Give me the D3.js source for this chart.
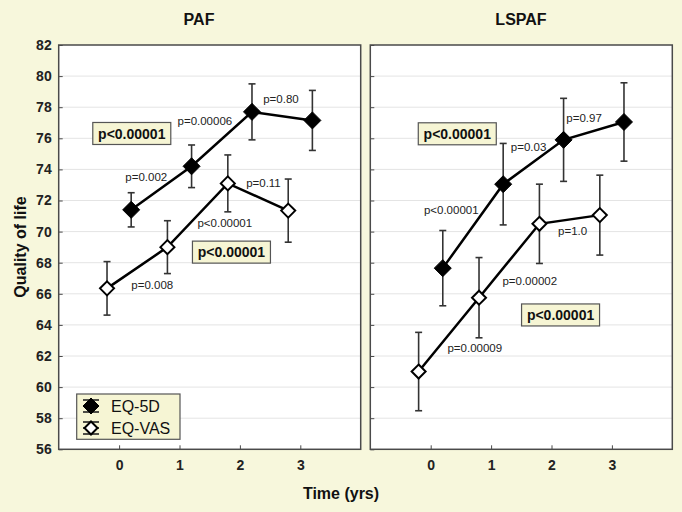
<!DOCTYPE html>
<html><head><meta charset="utf-8">
<script src="https://cdn.jsdelivr.net/npm/d3@7"></script>
<style>html,body{margin:0;padding:0;background:#f7f7dc;}svg{display:block;font-family:"Liberation Sans",Arial,sans-serif;}</style>
</head><body>
<script>
// ---- data ----
const panels = ["PAF", "LSPAF"];
const timeTicks = [0, 1, 2, 3];
const yTicks = [56, 58, 60, 62, 64, 66, 68, 70, 72, 74, 76, 78, 80, 82];
const seriesNames = ["EQ-5D", "EQ-VAS"];
const xOffsets = [0.2, -0.2];
// PAF
const pafEQ5D = [71.4, 74.2, 77.7, 77.15];
const pafEQ5Derr = [1.1, 1.37, 1.8, 1.93];
const pafVAS = [66.35, 69.0, 73.1, 71.35];
const pafVASerr = [1.72, 1.7, 1.83, 2.03];
// LSPAF
const lsEQ5D = [67.65, 73.05, 75.9, 77.05];
const lsEQ5Derr = [2.42, 2.62, 2.67, 2.52];
const lsVAS = [61.0, 65.75, 70.5, 71.06];
const lsVASerr = [2.52, 2.58, 2.55, 2.57];
// annotations: [panel, x, y, text, boxed]
const annotations = [
  [0, 0.21, 76.31, "p<0.00001", true],
  [0, 1.42, 77.13, "p=0.00006", false],
  [0, 2.68, 78.53, "p=0.80", false],
  [0, 0.45, 73.52, "p=0.002", false],
  [0, 2.39, 73.14, "p=0.11", false],
  [0, 1.75, 70.56, "p<0.00001", false],
  [0, 1.86, 68.68, "p<0.00001", true],
  [0, 0.55, 66.56, "p=0.008", false],
  [1, 0.44, 76.29, "p<0.00001", true],
  [1, 1.62, 75.46, "p=0.03", false],
  [1, 2.54, 77.32, "p=0.97", false],
  [1, 0.34, 71.38, "p<0.00001", false],
  [1, 2.35, 70.03, "p=1.0", false],
  [1, 1.64, 66.81, "p=0.00002", false],
  [1, 2.15, 64.64, "p<0.00001", true],
  [1, 0.73, 62.52, "p=0.00009", false]
];
const panelData = [
  [{v: pafEQ5D, e: pafEQ5Derr}, {v: pafVAS, e: pafVASerr}],
  [{v: lsEQ5D, e: lsEQ5Derr}, {v: lsVAS, e: lsVASerr}]
];

// ---- layout ----
const W = 682, H = 512;
const svg = d3.select("body").append("svg").attr("width", W).attr("height", H);
svg.append("rect").attr("width", W).attr("height", H).attr("fill", "#f7f7dc");

const y = d3.scaleLinear().domain([56, 82]).range([449.3, 45]);
const xRanges = [[58.7, 360.7], [370.3, 672.3]];
const titleX = [199, 521];
const boxFill = "#f6f5d4";
const frameCol = "#4a4a4a";

function diamond(g, cx, cy, r, filled, sw) {
  g.append("path")
    .attr("d", `M${cx},${cy - r}L${cx + r},${cy}L${cx},${cy + r}L${cx - r},${cy}Z`)
    .attr("fill", filled ? "#000" : "#fff")
    .attr("stroke", "#000").attr("stroke-width", sw).attr("stroke-linejoin", "miter");
}

panels.forEach((name, pi) => {
  const x = d3.scaleLinear().domain([-1, 4]).range(xRanges[pi]);
  const g = svg.append("g");
  // plot background
  g.append("rect").attr("x", x(-1)).attr("y", y(82)).attr("width", x(4) - x(-1)).attr("height", y(56) - y(82))
    .attr("fill", "#fff");
  // gridlines
  g.selectAll(".grid").data(yTicks.filter(t => t > 56 && t < 82)).enter().append("line")
    .attr("x1", x(-1)).attr("x2", x(4)).attr("y1", d => y(d)).attr("y2", d => y(d))
    .attr("stroke", "#e4e4e4").attr("stroke-width", 1);
  // y axis ticks (inside)
  const yAxis = d3.axisLeft(y).tickValues(yTicks).tickSize(-4).tickFormat(pi === 0 ? d3.format("d") : "");
  const ya = g.append("g").attr("transform", `translate(${x(-1)},0)`).call(yAxis);
  ya.select(".domain").remove();
  ya.selectAll(".tick line").attr("stroke", frameCol);
  ya.selectAll(".tick text").attr("x", -7).attr("font-size", 14).attr("font-weight", "bold")
    .attr("fill", "#222").attr("font-family", "'Liberation Sans',Arial,sans-serif");
  // x axis
  const xAxis = d3.axisBottom(x).tickValues(timeTicks).tickSize(-4).tickFormat(d3.format("d"));
  const xa = g.append("g").attr("transform", `translate(0,${y(56)})`).call(xAxis);
  xa.select(".domain").remove();
  xa.selectAll(".tick line").attr("stroke", frameCol);
  xa.selectAll(".tick text").attr("y", 11).attr("font-size", 14).attr("font-weight", "bold")
    .attr("fill", "#222").attr("font-family", "'Liberation Sans',Arial,sans-serif");
  // frame
  g.append("rect").attr("x", x(-1)).attr("y", y(82)).attr("width", x(4) - x(-1)).attr("height", y(56) - y(82))
    .attr("fill", "none").attr("stroke", frameCol).attr("stroke-width", 1.5);
  // title
  svg.append("text").attr("x", titleX[pi]).attr("y", 25).attr("text-anchor", "middle")
    .attr("font-size", 16).attr("font-weight", "bold").attr("fill", "#111").text(name);

  // series
  panelData[pi].forEach((s, si) => {
    const pts = s.v.map((v, i) => ({x: timeTicks[i] + xOffsets[si], v: v, e: s.e[i]}));
    // error bars
    pts.forEach(p => {
      const px = x(p.x);
      g.append("line").attr("x1", px).attr("x2", px).attr("y1", y(p.v + p.e)).attr("y2", y(p.v - p.e))
        .attr("stroke", "#333").attr("stroke-width", 1.6);
      [p.v + p.e, p.v - p.e].forEach(yy => {
        g.append("line").attr("x1", px - 3.5).attr("x2", px + 3.5).attr("y1", y(yy)).attr("y2", y(yy))
          .attr("stroke", "#333").attr("stroke-width", 1.6);
      });
    });
    g.append("path").datum(pts)
      .attr("d", d3.line().x(p => x(p.x)).y(p => y(p.v)))
      .attr("fill", "none").attr("stroke", "#000").attr("stroke-width", 2.5);
    pts.forEach(p => {
      if (si === 0) diamond(g, x(p.x), y(p.v), 8.5, true, 1);
      else diamond(g, x(p.x), y(p.v), 7, false, 2);
    });
  });

  // annotations
  annotations.filter(a => a[0] === pi).forEach(a => {
    const ax = x(a[1]), ay = y(a[2]);
    if (a[4]) {
      const bw = 78, bh = 22;
      g.append("rect").attr("x", ax - bw / 2).attr("y", ay - bh / 2).attr("width", bw).attr("height", bh)
        .attr("fill", boxFill).attr("stroke", "#555").attr("stroke-width", 1.2);
      g.append("text").attr("x", ax).attr("y", ay).attr("dy", "0.36em").attr("text-anchor", "middle")
        .attr("font-size", 14).attr("font-weight", "bold").attr("fill", "#111").text(a[3]);
    } else {
      g.append("text").attr("x", ax).attr("y", ay).attr("dy", "0.36em").attr("text-anchor", "middle")
        .attr("font-size", 11.5).attr("fill", "#222").text(a[3]);
    }
  });

  // legend (left panel only)
  if (pi === 0) {
    const lg = g.append("g");
    lg.append("rect").attr("x", 76.7).attr("y", 394).attr("width", 103.3).attr("height", 45.3)
      .attr("fill", boxFill).attr("stroke", "#555").attr("stroke-width", 1.2);
    seriesNames.forEach((nm, si) => {
      const cx = 91, cy = 406 + si * 22;
      [-6, 0, 6].forEach(dy => {
        lg.append("line").attr("x1", cx - 8).attr("x2", cx + 8).attr("y1", cy + dy).attr("y2", cy + dy)
          .attr("stroke", "#222").attr("stroke-width", 1.6);
      });
      if (si === 0) diamond(lg, cx, cy, 8, true, 1);
      else diamond(lg, cx, cy, 6.5, false, 2);
      lg.append("text").attr("x", 111).attr("y", cy).attr("dy", "0.36em")
        .attr("font-size", 16).attr("fill", "#111").text(nm);
    });
  }
});

// axis titles
svg.append("text").attr("transform", "translate(26,247) rotate(-90)").attr("text-anchor", "middle")
  .attr("font-size", 16).attr("font-weight", "bold").attr("fill", "#111").text("Quality of life");
svg.append("text").attr("x", 341).attr("y", 499).attr("text-anchor", "middle")
  .attr("font-size", 16).attr("font-weight", "bold").attr("fill", "#111").text("Time (yrs)");
</script>
</body></html>
